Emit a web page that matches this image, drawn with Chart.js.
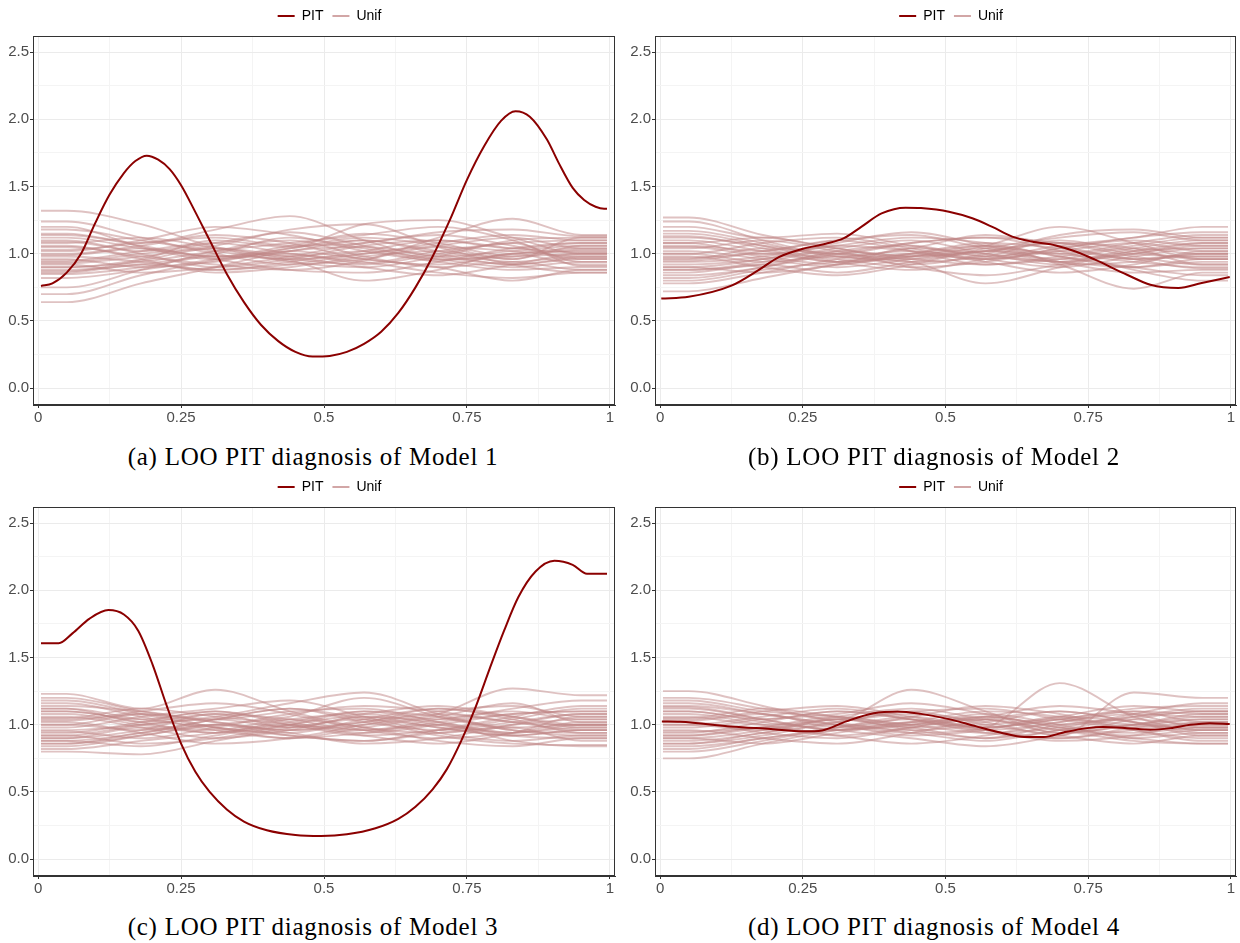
<!DOCTYPE html>
<html>
<head>
<meta charset="utf-8">
<script src="https://cdn.jsdelivr.net/npm/chart.js@4.4.1/dist/chart.umd.min.js"></script>
<style>
  html, body { margin: 0; padding: 0; background: #fff; overflow: hidden; }
  body { width: 1240px; height: 943px; position: relative; }
  canvas { position: absolute; }
  .cap { position: absolute; width: 626px; text-align: center; font-family: "Liberation Serif", serif;
         font-size: 25px; letter-spacing: 0.75px; color: #000; line-height: 28px; }
</style>
</head>
<body>
<canvas id="pa" width="659" height="425" style="left:0;top:0"></canvas>
<canvas id="pb" width="660" height="425" style="left:621px;top:0"></canvas>
<canvas id="pc" width="659" height="425" style="left:0;top:471px"></canvas>
<canvas id="pd" width="660" height="425" style="left:621px;top:471px"></canvas>
<div class="cap" id="ca" style="left:0;top:443px"></div>
<div class="cap" id="cb" style="left:621px;top:443px"></div>
<div class="cap" id="cc" style="left:0;top:913px"></div>
<div class="cap" id="cd" style="left:621px;top:913px"></div>
<script>
// tick labels
const xTickLabels = ['0', '0.25', '0.5', '0.75', '1'];
const yTickLabels = ['0.0', '0.5', '1.0', '1.5', '2.0', '2.5'];
const captions = [
    '(a) LOO PIT diagnosis of Model 1',
    '(b) LOO PIT diagnosis of Model 2',
    '(c) LOO PIT diagnosis of Model 3',
    '(d) LOO PIT diagnosis of Model 4'
];

// Unif reference curves: value at the two flat ends and at the knots in between
const unifX = [0.05, 0.18, 0.31, 0.44, 0.57, 0.70, 0.83, 0.95];
const unifEnds = [0.005, 0.995];

const unifA = [
    [1.32,1.22,1.05,0.98,1.02,0.95,1.00,1.04], [0.64,0.78,0.90,1.02,1.05,0.98,0.92,0.96],
    [0.70,0.84,0.95,1.00,0.93,1.02,1.08,1.10], [0.75,0.88,1.02,1.10,0.98,0.90,0.94,0.88],
    [1.24,1.12,1.00,0.92,0.96,1.05,1.02,0.98], [1.20,1.05,0.96,1.04,1.12,1.06,0.96,1.12],
    [1.15,1.08,1.18,1.28,1.10,0.98,1.02,1.06], [0.85,0.90,0.98,0.95,0.80,0.88,1.00,0.92],
    [0.90,0.96,1.10,1.05,1.22,1.25,1.12,1.00], [1.05,0.98,0.92,0.88,0.95,1.12,1.26,1.14],
    [0.95,1.02,1.08,1.00,0.94,0.86,0.82,0.86], [1.10,1.00,0.90,0.96,1.06,1.10,1.04,1.08],
    [0.88,0.92,1.00,1.12,1.04,0.96,0.90,0.94], [1.00,1.06,1.14,1.08,0.96,0.92,1.00,1.02],
    [0.92,0.86,0.90,0.98,1.08,1.14,1.06,0.96], [1.08,1.12,1.04,0.94,0.90,0.98,1.10,1.12],
    [0.98,0.94,0.88,0.92,1.00,1.06,1.12,1.04], [1.02,1.10,1.20,1.14,1.02,0.94,0.88,0.90],
    [0.82,0.88,0.96,1.04,1.10,1.02,0.94,0.98], [1.12,1.04,0.98,1.06,1.15,1.08,0.98,1.00],
    [0.94,1.00,1.06,1.18,1.22,1.05,0.92,0.86], [1.06,0.96,0.86,0.90,0.98,1.02,0.96,1.06],
    [0.87,0.95,1.04,0.98,0.90,0.84,0.92,1.00], [1.18,1.10,1.02,0.96,1.00,1.08,1.14,1.10],
    [0.96,0.90,0.94,1.02,0.96,0.90,0.80,0.88], [1.03,1.08,1.12,1.06,1.08,1.16,1.18,1.13],
    [0.90,0.94,1.02,1.08,1.14,1.20,1.10,0.94], [1.14,1.06,0.96,0.88,0.86,0.94,1.04,1.08],
    [0.99,1.04,0.98,1.02,1.10,1.00,0.92,0.97], [0.86,0.92,0.88,0.94,1.02,1.10,1.04,1.01],
    [1.09,1.02,1.08,1.16,1.06,0.96,0.98,1.03], [0.93,0.98,1.04,0.96,0.92,1.00,1.08,0.91]
];
const unifB = [
    [1.27,1.14,1.04,0.98,1.02,1.08,1.00,0.98], [0.72,0.82,0.92,0.98,1.04,1.00,0.94,0.90],
    [0.78,0.86,0.96,1.02,0.96,0.90,0.98,1.04], [1.24,1.10,0.98,0.94,0.78,0.90,1.02,1.08],
    [1.20,1.12,1.15,1.06,0.98,0.94,0.90,0.96], [0.82,0.90,1.00,1.08,1.12,1.02,0.88,0.80],
    [1.15,1.06,0.94,0.88,0.96,1.06,1.12,1.20], [0.88,0.94,1.02,0.98,1.06,1.20,1.08,0.96],
    [1.05,0.98,0.92,1.00,1.06,0.92,0.74,0.86], [0.95,1.02,1.10,1.14,1.04,0.96,1.00,1.06],
    [1.10,1.02,0.96,0.90,0.94,1.04,1.12,1.16], [0.92,0.96,1.04,1.10,1.00,0.92,0.94,1.00],
    [1.00,1.08,1.12,1.04,0.96,1.02,1.08,1.02], [0.86,0.92,0.86,0.94,1.02,1.08,1.04,0.92],
    [1.08,1.00,1.06,1.12,1.08,0.98,0.90,0.94], [0.98,0.90,0.84,0.92,1.04,1.12,1.16,1.10],
    [1.12,1.06,1.00,0.96,0.92,0.98,1.06,1.12], [0.90,0.96,1.06,1.02,0.94,0.86,0.92,1.02],
    [1.04,1.10,1.02,0.94,0.98,1.10,1.02,0.96], [0.80,0.88,0.94,1.00,0.96,1.04,1.10,1.06],
    [1.17,1.08,0.98,1.04,1.14,1.06,0.96,0.98], [0.94,0.98,1.08,1.16,1.06,0.94,0.86,0.88],
    [1.02,0.96,0.90,0.96,1.02,1.00,1.08,1.14], [0.88,0.92,1.00,0.90,0.84,0.92,1.02,1.04],
    [1.06,1.02,1.10,1.02,0.92,0.96,1.04,1.00], [0.96,1.04,1.00,1.08,1.12,1.08,0.98,0.92],
    [1.13,1.04,0.94,0.98,1.06,0.98,0.90,0.84], [0.90,0.86,0.92,1.04,1.00,0.94,1.00,1.08],
    [1.00,0.94,0.98,0.92,1.00,1.14,1.18,1.12], [0.84,0.90,1.02,1.06,0.98,1.02,0.96,1.00],
    [1.08,1.12,1.04,0.96,1.02,0.94,1.04,1.10], [0.97,1.00,0.94,1.00,1.08,1.04,0.96,0.89]
];
const unifC = [
    [1.23,1.12,1.26,1.10,0.98,0.94,1.00,1.04], [0.80,0.78,0.88,0.98,1.04,0.98,0.92,0.96],
    [0.84,0.92,1.00,1.06,1.20,1.06,0.96,0.94], [1.20,1.10,1.02,0.96,1.00,1.08,1.27,1.22],
    [1.16,1.06,0.96,0.90,0.94,1.02,1.08,1.10], [0.88,0.94,1.04,1.12,1.04,0.92,0.86,0.85],
    [1.10,1.02,0.94,1.00,1.10,1.06,0.96,0.92], [0.92,0.86,0.90,1.00,1.08,1.14,1.06,0.98],
    [1.04,1.10,1.16,1.08,0.96,0.90,0.94,1.02], [0.96,1.00,1.06,1.16,1.24,1.08,0.98,1.00],
    [1.12,1.04,0.98,0.92,0.88,0.96,1.06,1.14], [0.86,0.92,1.00,0.94,0.86,0.90,1.00,1.08],
    [1.00,1.08,1.02,0.96,1.02,1.10,1.14,1.06], [0.90,0.96,1.08,1.04,0.96,1.00,0.88,0.84],
    [1.06,0.98,0.90,0.96,1.06,1.02,0.94,0.98], [0.94,1.02,1.10,1.00,0.92,0.96,1.04,1.12],
    [1.14,1.10,1.04,1.10,1.12,1.02,0.92,0.90], [0.82,0.88,0.94,1.02,1.10,1.04,1.12,1.18],
    [1.02,0.94,0.86,0.90,1.00,1.08,1.02,0.96], [0.98,1.06,1.12,1.18,1.06,0.94,0.88,0.92],
    [1.08,1.00,0.96,1.04,0.98,0.88,0.84,0.90], [0.88,0.84,0.92,1.00,0.96,1.04,1.10,1.04],
    [1.18,1.08,0.98,0.94,1.04,1.12,1.06,1.00], [0.92,1.00,1.04,0.98,1.06,0.98,0.92,0.96],
    [1.05,1.12,1.06,1.00,0.92,0.86,0.94,1.06], [0.95,0.90,0.98,1.08,1.14,1.10,1.02,1.00],
    [1.10,1.04,1.10,1.02,0.94,1.00,1.08,1.10], [0.86,0.94,1.00,0.92,0.88,0.94,0.98,0.88],
    [1.00,0.96,1.04,1.12,1.02,0.96,1.02,1.08], [1.03,1.08,0.98,0.90,0.98,1.06,1.16,1.02],
    [0.90,0.98,0.94,1.04,1.08,1.00,0.94,1.00], [1.12,1.02,1.08,0.98,1.02,1.12,1.04,0.94]
];
const unifD = [
    [1.25,1.14,1.02,0.96,1.00,1.04,1.00,0.98], [0.75,0.86,0.96,1.02,1.04,0.96,0.92,0.96],
    [0.80,0.88,0.98,1.06,0.96,0.90,0.98,1.04], [1.20,1.12,1.04,1.26,1.10,0.94,1.00,1.08],
    [1.16,1.08,1.00,0.94,0.98,1.31,1.06,0.96], [0.86,0.92,1.02,1.08,1.02,0.92,1.24,1.20],
    [1.10,1.02,0.96,0.90,0.84,0.92,1.04,1.10], [0.90,0.96,1.06,1.12,1.04,0.96,0.88,0.86],
    [1.04,1.10,1.14,1.06,0.98,1.04,1.10,1.02], [0.96,0.90,0.86,0.94,1.04,1.10,1.02,0.92],
    [1.12,1.04,0.96,1.00,1.08,1.00,0.90,0.94], [0.88,0.94,1.04,0.98,0.90,0.96,1.06,1.12],
    [1.00,1.06,1.12,1.04,0.94,0.90,0.96,1.00], [0.92,0.98,0.92,0.98,1.06,1.14,1.08,0.98],
    [1.06,1.00,1.04,1.10,1.12,1.04,0.96,0.90], [0.84,0.90,0.98,1.04,0.98,1.04,1.12,1.14],
    [1.14,1.08,1.00,0.92,0.96,1.06,1.02,0.96], [0.94,1.02,1.10,1.04,0.96,0.88,0.92,1.02],
    [1.02,0.94,0.90,0.98,1.06,1.00,1.06,1.10], [0.98,1.04,1.08,1.16,1.08,0.98,0.94,0.98],
    [1.08,1.00,0.92,0.86,0.92,1.02,1.08,1.06], [0.90,0.86,0.94,1.02,1.10,1.06,0.96,0.88],
    [1.18,1.10,1.06,1.00,0.94,0.98,1.08,1.16], [0.86,0.94,1.00,0.94,0.88,0.96,1.00,1.04],
    [1.05,1.12,1.06,0.98,1.02,1.10,1.02,0.94], [0.95,0.98,1.02,1.10,1.00,0.92,0.86,0.92],
    [1.10,1.04,1.10,1.04,0.96,1.02,1.10,1.08], [0.82,0.90,0.96,1.00,1.06,0.98,0.90,0.86],
    [1.00,0.96,1.04,0.96,0.90,1.00,1.04,1.00], [1.03,1.08,0.98,1.06,1.14,1.08,0.98,1.02],
    [0.92,0.98,1.06,1.00,1.04,0.94,1.00,1.06], [1.13,1.04,0.96,1.02,0.98,1.06,1.14,1.10]
];

// LOO PIT curves
const pitAx = [0.005,0.025,0.05,0.075,0.10,0.125,0.15,0.17,0.19,0.21,0.23,0.25,0.275,0.30,0.33,0.36,0.39,0.42,0.45,0.48,0.51,0.54,0.57,0.60,0.63,0.66,0.69,0.72,0.75,0.78,0.81,0.835,0.86,0.89,0.91,0.935,0.955,0.975,0.99,0.995];
const pitAy = [0.76,0.78,0.86,1.0,1.23,1.44,1.60,1.69,1.73,1.70,1.63,1.51,1.31,1.10,0.85,0.64,0.47,0.35,0.27,0.235,0.24,0.27,0.33,0.42,0.56,0.75,0.98,1.25,1.55,1.80,1.99,2.06,2.02,1.85,1.68,1.49,1.40,1.35,1.335,1.335];
const pitBx = [0.002,0.05,0.125,0.173,0.208,0.25,0.29,0.322,0.353,0.388,0.43,0.457,0.506,0.547,0.582,0.617,0.651,0.693,0.728,0.762,0.818,0.859,0.908,0.949,0.998];
const pitBy = [0.667,0.68,0.763,0.88,0.975,1.037,1.074,1.116,1.202,1.30,1.343,1.34,1.313,1.264,1.20,1.128,1.091,1.062,1.017,0.956,0.844,0.770,0.746,0.783,0.827];
const pitCx = [0.005,0.036,0.06,0.09,0.123,0.15,0.175,0.20,0.225,0.25,0.275,0.30,0.33,0.36,0.40,0.45,0.495,0.54,0.59,0.63,0.66,0.69,0.715,0.74,0.765,0.79,0.815,0.84,0.87,0.903,0.935,0.96,0.995];
const pitCy = [1.607,1.607,1.68,1.79,1.853,1.82,1.70,1.45,1.14,0.86,0.65,0.50,0.37,0.28,0.215,0.18,0.173,0.185,0.23,0.30,0.39,0.52,0.67,0.88,1.13,1.42,1.70,1.95,2.14,2.22,2.19,2.124,2.124];
const pitDx = [0.003,0.035,0.125,0.194,0.25,0.284,0.326,0.374,0.416,0.457,0.506,0.554,0.596,0.638,0.672,0.707,0.748,0.776,0.818,0.859,0.894,0.929,0.963,0.998];
const pitDy = [1.025,1.022,0.988,0.968,0.951,0.958,1.025,1.086,1.099,1.081,1.042,0.988,0.943,0.909,0.909,0.943,0.975,0.983,0.975,0.963,0.975,1.0,1.012,1.005];

const panels = [
    { id: 'pa', cap: 'ca', unif: unifA, px: pitAx, py: pitAy, axisW: 33, rightW: 44 },
    { id: 'pb', cap: 'cb', unif: unifB, px: pitBx, py: pitBy, axisW: 34, rightW: 45 },
    { id: 'pc', cap: 'cc', unif: unifC, px: pitCx, py: pitCy, axisW: 33, rightW: 44 },
    { id: 'pd', cap: 'cd', unif: unifD, px: pitDx, py: pitDy, axisW: 34, rightW: 45 }
];

function isMajor(v, step) {
    return Math.abs(v / step - Math.round(v / step)) < 1e-6;
}

// full panel border like ggplot theme_bw
const panelBorder = {
    id: 'panelBorder',
    afterDraw(chart) {
        const a = chart.chartArea, ctx = chart.ctx;
        ctx.save();
        ctx.strokeStyle = '#333333';
        ctx.lineWidth = 1;
        ctx.strokeRect(Math.round(a.left) + 0.5, Math.round(a.top) + 0.5,
            Math.round(a.right - a.left) - 1, Math.round(a.bottom - a.top) - 1);
        ctx.restore();
    }
};

function unifDataset(vals) {
    const pts = [{ x: unifEnds[0], y: vals[0] }];
    unifX.forEach((x, k) => pts.push({ x: x, y: vals[k] }));
    pts.push({ x: unifEnds[1], y: vals[vals.length - 1] });
    return {
        label: 'Unif', data: pts,
        borderColor: 'rgba(192,134,134,0.5)', backgroundColor: 'rgba(192,134,134,0.5)',
        borderWidth: 1.9, pointRadius: 0, cubicInterpolationMode: 'monotone'
    };
}

function drawPanel(p, idx) {
    document.getElementById(p.cap).textContent = captions[idx];
    const datasets = [{
        label: 'PIT',
        data: p.px.map((x, i) => ({ x: x, y: p.py[i] })),
        borderColor: '#8b0000', backgroundColor: '#8b0000',
        borderWidth: 2, pointRadius: 0, cubicInterpolationMode: 'monotone'
    }];
    p.unif.forEach(v => datasets.push(unifDataset(v)));

    const tickFont = { family: 'Liberation Sans', size: 15 };
    new Chart(document.getElementById(p.id), {
        type: 'line',
        data: { datasets: datasets },
        plugins: [panelBorder],
        options: {
            responsive: false,
            animation: false,
            events: [],
            layout: { padding: 0 },
            plugins: {
                tooltip: { enabled: false },
                // small spacer between the legend and the panel
                subtitle: { display: true, text: '', padding: 0, font: { size: 2.5 }, weight: 500 },
                legend: {
                    position: 'top',
                    labels: {
                        padding: 9,
                        boxWidth: 17,
                        boxHeight: 2,
                        color: '#000',
                        font: { family: 'Liberation Sans', size: 14 },
                        generateLabels: chart => Chart.defaults.plugins.legend.labels.generateLabels(chart)
                            .filter(l => l.datasetIndex < 2)
                            .map(l => Object.assign(l, {
                                fillStyle: l.datasetIndex === 0 ? '#8b0000' : '#d2a6a6',
                                lineWidth: 0
                            }))
                    }
                }
            },
            scales: {
                x: {
                    type: 'linear',
                    min: -0.009, max: 1.009,
                    afterFit: s => { s.height = 20; },
                    border: { display: true, color: '#333333', width: 1 },
                    grid: {
                        color: c => c.tick && isMajor(c.tick.value, 0.25) ? '#ebebeb' : '#f4f4f4',
                        tickColor: c => c.tick && isMajor(c.tick.value, 0.25) ? '#333333' : 'rgba(0,0,0,0)',
                        tickLength: 3, lineWidth: 1
                    },
                    ticks: {
                        stepSize: 0.125, includeBounds: false, autoSkip: false, maxRotation: 0,
                        padding: 1, color: '#4d4d4d', font: tickFont,
                        callback: v => isMajor(v, 0.25) ? xTickLabels[Math.round(v / 0.25)] : ''
                    }
                },
                y: {
                    min: -0.125, max: 2.62,
                    afterFit: s => { s.width = p.axisW; },
                    border: { display: true, color: '#333333', width: 1 },
                    grid: {
                        color: c => c.tick && isMajor(c.tick.value, 0.5) ? '#ebebeb' : '#f4f4f4',
                        tickColor: c => c.tick && isMajor(c.tick.value, 0.5) ? '#333333' : 'rgba(0,0,0,0)',
                        tickLength: 3, lineWidth: 1
                    },
                    ticks: {
                        stepSize: 0.25, includeBounds: false, autoSkip: false,
                        padding: 1, color: '#4d4d4d', font: tickFont,
                        callback: v => isMajor(v, 0.5) ? yTickLabels[Math.round(v / 0.5)] : ''
                    }
                },
                // empty right-hand box so the legend centres over the whole plot as in ggplot
                yr: {
                    position: 'right',
                    afterFit: s => { s.width = p.rightW; },
                    grid: { display: false, drawTicks: false },
                    ticks: { display: false },
                    border: { display: false }
                }
            }
        }
    });
}

panels.forEach(drawPanel);
</script>
</body>
</html>
